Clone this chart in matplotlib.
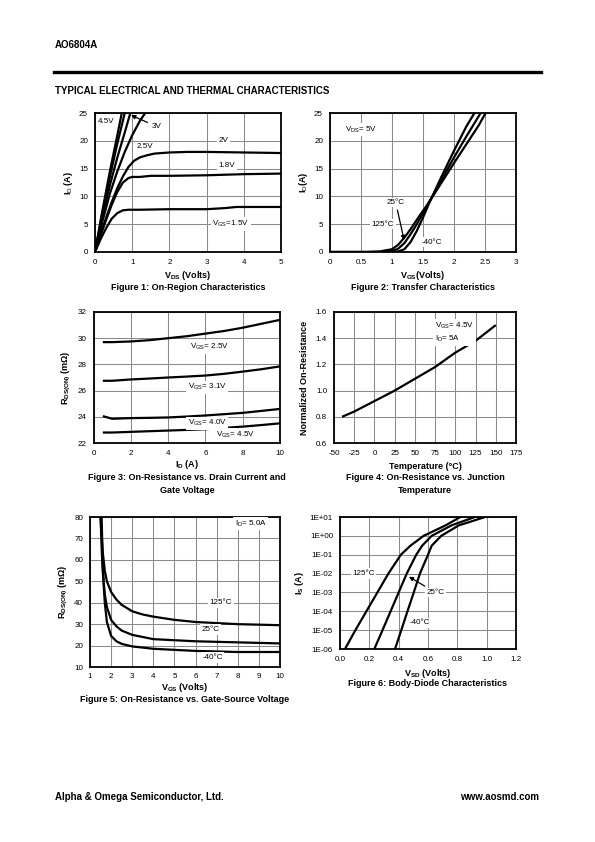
import numpy as np
import matplotlib
matplotlib.use("Agg")
import matplotlib.pyplot as plt

plt.rcParams["font.family"] = ["Liberation Sans", "DejaVu Sans"]
plt.rcParams["mathtext.fontset"] = "custom"
plt.rcParams["mathtext.rm"] = "Liberation Sans"
plt.rcParams["mathtext.it"] = "Liberation Sans"
plt.rcParams["mathtext.bf"] = "Liberation Sans:bold"
plt.rcParams["axes.unicode_minus"] = False

# ---- Figure 1: On-region characteristics (VDS, ID) ----
f1_vds_45 = [0, 0.2, 0.4, 0.6, 0.72]
f1_id_45 = [0, 7.5, 14.5, 21, 25]
f1_vds_4 = [0, 0.2, 0.4, 0.6, 0.8]
f1_id_4 = [0, 7, 13.5, 19.5, 25]
f1_vds_3 = [0, 0.2, 0.4, 0.6, 0.8, 0.95]
f1_id_3 = [0, 6.5, 12, 17, 21.5, 25]
f1_vds_25 = [0, 0.2, 0.4, 0.6, 0.8, 1.0, 1.2, 1.35]
f1_id_25 = [0, 5.5, 10.5, 14.5, 18, 21, 23.5, 25]
f1_vds_2 = [0, 0.15, 0.3, 0.45, 0.6, 0.75, 0.9, 1.05, 1.2, 1.4, 1.6, 2.0, 2.5, 3.0, 4.0, 5.0]
f1_id_2 = [0, 3.2, 6.2, 9, 11.5, 13.6, 15.3, 16.4, 17.0, 17.4, 17.7, 17.9, 18.0, 18.0, 17.9, 17.8]
f1_vds_18 = [0, 0.15, 0.3, 0.45, 0.6, 0.75, 0.9, 1.0, 1.2, 1.5, 2.0, 3.0, 4.0, 5.0]
f1_id_18 = [0, 3, 5.8, 8.5, 10.8, 12.5, 13.3, 13.5, 13.5, 13.7, 13.7, 13.8, 14.0, 14.1]
f1_vds_15 = [0, 0.15, 0.3, 0.45, 0.6, 0.75, 0.9, 1.2, 2.0, 3.0, 3.5, 3.8, 4.5, 5.0]
f1_id_15 = [0, 2.3, 4.3, 6.0, 7.0, 7.5, 7.6, 7.6, 7.7, 7.7, 7.9, 8.1, 8.1, 8.1]

# ---- Figure 2: Transfer characteristics (VGS, ID) ----
f2_vgs_125 = [0, 0.6, 0.8, 1.0, 1.1, 1.2, 1.3, 1.4, 1.5, 1.6, 1.8, 2.0, 2.2, 2.4, 2.51]
f2_id_125 = [0, 0, 0.1, 0.5, 1.3, 2.6, 4.1, 5.8, 7.4, 9.0, 12.5, 16.0, 19.4, 22.8, 25]
f2_vgs_25 = [0, 0.8, 1.0, 1.1, 1.2, 1.3, 1.4, 1.5, 1.6, 1.8, 2.0, 2.2, 2.43]
f2_id_25 = [0, 0, 0.15, 0.6, 1.6, 3.2, 5.0, 7.0, 9.0, 13.0, 17.0, 20.8, 25]
f2_vgs_m40 = [0, 0.9, 1.1, 1.2, 1.3, 1.4, 1.5, 1.6, 1.8, 2.0, 2.2, 2.33]
f2_id_m40 = [0, 0, 0.1, 0.5, 1.8, 3.8, 6.2, 8.8, 13.6, 18.2, 22.6, 25]

# ---- Figure 3: RDS(ON) vs ID ----
f3_id = [0.5, 1, 2, 3, 4, 5, 6, 7, 8, 9, 10]
f3_r_25 = [29.7, 29.7, 29.75, 29.85, 30.0, 30.15, 30.35, 30.55, 30.8, 31.1, 31.4]
f3_r_31 = [26.75, 26.75, 26.85, 26.92, 27.0, 27.07, 27.15, 27.28, 27.45, 27.63, 27.85]
f3_r_40 = [24.05, 23.85, 23.9, 23.92, 23.95, 24.02, 24.1, 24.2, 24.3, 24.45, 24.6]
f3_r_45 = [22.8, 22.8, 22.85, 22.9, 22.95, 23.0, 23.05, 23.15, 23.25, 23.37, 23.5]

# ---- Figure 4: normalized on-resistance vs temperature ----
f4_temp = [-40, -25, 0, 25, 50, 75, 100, 125, 150]
f4_norm = [0.8, 0.84, 0.92, 1.0, 1.09, 1.18, 1.29, 1.38, 1.5]

# ---- Figure 5: RDS(ON) vs VGS ----
f5_vgs_125 = [1.5, 1.55, 1.6, 1.7, 1.8, 2.0, 2.25, 2.5, 3.0, 3.5, 4.0, 5.0, 6.0, 7.0, 8.0, 10.0]
f5_r_125 = [80, 72, 64, 55, 50, 45, 41.5, 39, 36, 34.5, 33.5, 32, 31, 30.5, 30, 29.5]
f5_vgs_25 = [1.5, 1.55, 1.6, 1.7, 1.8, 2.0, 2.25, 2.5, 3.0, 4.0, 5.0, 6.0, 8.0, 10.0]
f5_r_25 = [80, 66, 55, 44, 38, 32, 29, 27, 25, 23, 22.5, 22, 21.5, 21]
f5_vgs_m40 = [1.55, 1.6, 1.65, 1.7, 1.8, 2.0, 2.25, 2.5, 3.0, 4.0, 5.0, 6.0, 8.0, 10.0]
f5_r_m40 = [80, 60, 48, 40, 31, 24.5, 22, 20.8, 19.6, 18.5, 18, 17.5, 17, 17]

# ---- Figure 6: body-diode characteristics (VSD, IS) ----
f6_vsd_125 = [0.034, 0.105, 0.18, 0.255, 0.33, 0.415, 0.48, 0.57, 0.72, 0.82]
f6_is_125 = [1e-6, 1e-5, 1e-4, 1e-3, 1e-2, 1e-1, 0.3, 1.0, 3.6, 10]
f6_vsd_25 = [0.234, 0.29, 0.345, 0.40, 0.455, 0.52, 0.56, 0.625, 0.76, 0.92]
f6_is_25 = [1e-6, 1e-5, 1e-4, 1e-3, 1e-2, 1e-1, 0.3, 1.0, 3.6, 10]
f6_vsd_m40 = [0.375, 0.418, 0.46, 0.503, 0.545, 0.6, 0.625, 0.69, 0.81, 0.99]
f6_is_m40 = [1e-6, 1e-5, 1e-4, 1e-3, 1e-2, 1e-1, 0.3, 1.0, 3.6, 10]

W, H = 595, 842
fig = plt.figure(figsize=(W / 100, H / 100), dpi=100)


def add_ax(x0, y0, x1, y1):
    # pixel box (left, top, right, bottom) -> figure axes
    return fig.add_axes([x0 / W, 1 - y1 / H, (x1 - x0) / W, (y1 - y0) / H])


def ftext(x, y, s, **kw):
    fig.text(x / W, 1 - y / H, s, **kw)


def style(ax):
    ax.grid(True, color="#8a8a8a", lw=0.75)
    ax.set_axisbelow(True)
    for sp in ax.spines.values():
        sp.set_linewidth(1.3)
    ax.tick_params(length=0, labelsize=5.8, pad=5)


lab = dict(fontsize=5.8, ha="center", va="center",
           bbox=dict(fc="white", ec="none", pad=1.2))
curve = dict(color="black", lw=1.6, solid_capstyle="butt")
arrow = dict(arrowstyle="-|>", color="black", lw=0.9, mutation_scale=6, shrinkA=2, shrinkB=0)

# header / footer
ftext(55, 45, "AO6804A", fontsize=7, fontweight="bold", va="center")
fig.add_artist(plt.Line2D([54 / W, 541 / W], [1 - 72 / H, 1 - 72 / H], color="black", lw=2.4))
ftext(55, 91, "TYPICAL ELECTRICAL AND THERMAL CHARACTERISTICS", fontsize=7, fontweight="bold", va="center")
ftext(55, 797, "Alpha & Omega Semiconductor, Ltd.", fontsize=7, fontweight="bold", va="center")
ftext(539, 797, "www.aosmd.com", fontsize=7, fontweight="bold", va="center", ha="right")

# ---- Figure 1 ----
ax = add_ax(95, 113, 281, 252)
for xs, ys in [(f1_vds_45, f1_id_45), (f1_vds_4, f1_id_4), (f1_vds_3, f1_id_3),
               (f1_vds_25, f1_id_25), (f1_vds_2, f1_id_2), (f1_vds_18, f1_id_18),
               (f1_vds_15, f1_id_15)]:
    ax.plot(xs, ys, **curve)
ax.set_xlim(0, 5)
ax.set_ylim(0, 25)
ax.set_xticks(range(6))
ax.set_yticks(range(0, 26, 5))
style(ax)
ax.text(0.3, 23.4, "4.5V", **lab)
ax.text(1.35, 18.9, "2.5V", **lab)
ax.text(3.45, 20, "2V", **lab)
ax.text(3.55, 15.5, "1.8V", **lab)
ax.text(3.65, 5, "V$_{\\mathrm{GS}}$=1.5V", **lab)
ax.annotate("3V", xy=(0.97, 24.6), xytext=(1.65, 22.6), fontsize=5.8, ha="center", va="center",
            bbox=dict(fc="white", ec="none", pad=1.0), arrowprops=arrow)
ax.set_ylabel("I$_{\\mathrm{D}}$ (A)", fontsize=6.5, fontweight="bold", labelpad=3)
ftext(188, 275, "V$_{\\mathbf{DS}}$ (Volts)", fontsize=6.5, fontweight="bold", ha="center", va="center")
ftext(188, 287, "Figure 1: On-Region Characteristics", fontsize=6.5, fontweight="bold", ha="center", va="center")

# ---- Figure 2 ----
ax = add_ax(330, 113, 516, 252)
for xs, ys in [(f2_vgs_125, f2_id_125), (f2_vgs_25, f2_id_25), (f2_vgs_m40, f2_id_m40)]:
    ax.plot(xs, ys, **curve)
ax.set_xlim(0, 3)
ax.set_ylim(0, 25)
ax.set_xticks([0, 0.5, 1, 1.5, 2, 2.5, 3])
ax.set_xticklabels(["0", "0.5", "1", "1.5", "2", "2.5", "3"])
ax.set_yticks(range(0, 26, 5))
style(ax)
ax.text(0.5, 22.0, "V$_{\\mathrm{DS}}$= 5V", **lab)
ax.text(0.85, 5, "125\u00b0C", **lab)
ax.text(1.65, 1.75, "-40\u00b0C", **lab)
ax.annotate("25\u00b0C", xy=(1.195, 2.15), xytext=(1.06, 8.9), fontsize=5.8, ha="center", va="center",
            bbox=dict(fc="white", ec="none", pad=1.0), arrowprops=arrow)
ax.set_ylabel("I$_{\\mathrm{D}}$(A)", fontsize=6.5, fontweight="bold", labelpad=3)
ftext(423, 275, "V$_{\\mathbf{GS}}$(Volts)", fontsize=6.5, fontweight="bold", ha="center", va="center")
ftext(423, 287, "Figure 2: Transfer Characteristics", fontsize=6.5, fontweight="bold", ha="center", va="center")

# ---- Figure 3 ----
ax = add_ax(93.5, 312, 280, 443)
for ys in [f3_r_25, f3_r_31, f3_r_40, f3_r_45]:
    ax.plot(f3_id, ys, **curve)
ax.set_xlim(0, 10)
ax.set_ylim(22, 32)
ax.set_xticks(range(0, 11, 2))
ax.set_yticks(range(22, 33, 2))
style(ax)
ax.text(6.2, 29.35, "V$_{\\mathrm{GS}}$= 2.5V", **lab)
ax.text(6.1, 26.25, "V$_{\\mathrm{GS}}$= 3.1V", **lab)
ax.text(6.1, 23.5, "V$_{\\mathrm{GS}}$= 4.0V", **lab)
ax.text(7.6, 22.6, "V$_{\\mathrm{GS}}$= 4.5V", **lab)
ax.set_ylabel("R$_{\\mathbf{DS(ON)}}$ (m\u03a9)", fontsize=6.5, fontweight="bold", labelpad=3)
ftext(187, 465, "I$_{\\mathbf{D}}$ (A)", fontsize=6.5, fontweight="bold", ha="center", va="center")
ftext(187, 478, "Figure 3: On-Resistance vs. Drain Current and", fontsize=6.5, fontweight="bold", ha="center", va="center")
ftext(187, 490, "Gate Voltage", fontsize=6.5, fontweight="bold", ha="center", va="center")

# ---- Figure 4 ----
ax = add_ax(334, 312, 516, 443)
ax.plot(f4_temp, f4_norm, **curve)
ax.set_xlim(-50, 175)
ax.set_ylim(0.6, 1.6)
ax.set_xticks(range(-50, 176, 25))
ax.set_yticks([0.6, 0.8, 1.0, 1.2, 1.4, 1.6])
ax.set_yticklabels(["0.6", "0.8", "1.0", "1.2", "1.4", "1.6"])
style(ax)
ax.text(75, 1.445, "V$_{\\mathrm{GS}}$= 4.5V\nI$_{\\mathrm{D}}$= 5A", fontsize=5.8, ha="left", va="center",
        linespacing=1.5, bbox=dict(fc="white", ec="none", pad=1.2))
ax.set_ylabel("Normalized On-Resistance", fontsize=6.5, fontweight="bold", labelpad=5)
ftext(425, 467, "Temperature (\u00b0C)", fontsize=6.5, fontweight="bold", ha="center", va="center")
ftext(425, 478, "Figure 4: On-Resistance vs. Junction", fontsize=6.5, fontweight="bold", ha="center", va="center")
ftext(425, 490, "Temperature", fontsize=6.5, fontweight="bold", ha="center", va="center")

# ---- Figure 5 ----
ax = add_ax(90, 517, 280, 667)
for xs, ys in [(f5_vgs_125, f5_r_125), (f5_vgs_25, f5_r_25), (f5_vgs_m40, f5_r_m40)]:
    ax.plot(xs, ys, **curve)
ax.set_xlim(1, 10)
ax.set_ylim(10, 80)
ax.set_xticks(range(1, 11))
ax.set_yticks(range(10, 81, 10))
style(ax)
ax.tick_params(axis="x", pad=4)
ax.text(8.6, 77, "I$_{\\mathrm{D}}$= 5.0A", **lab)
ax.text(7.2, 40, "125\u00b0C", **lab)
ax.text(6.7, 27.5, "25\u00b0C", **lab)
ax.text(6.8, 14.5, "-40\u00b0C", **lab)
ax.set_ylabel("R$_{\\mathbf{DS(ON)}}$ (m\u03a9)", fontsize=6.5, fontweight="bold", labelpad=3)
ftext(185, 687, "V$_{\\mathbf{GS}}$ (Volts)", fontsize=6.5, fontweight="bold", ha="center", va="center")
ftext(185, 699, "Figure 5: On-Resistance vs. Gate-Source Voltage", fontsize=6.5, fontweight="bold", ha="center", va="center")

# ---- Figure 6 ----
ax = add_ax(340, 517, 516, 649)
for xs, ys in [(f6_vsd_125, f6_is_125), (f6_vsd_25, f6_is_25), (f6_vsd_m40, f6_is_m40)]:
    ax.plot(xs, ys, **curve)
ax.set_yscale("log")
ax.set_xlim(0, 1.2)
ax.set_ylim(1e-6, 1e1)
ax.set_xticks([0, 0.2, 0.4, 0.6, 0.8, 1.0, 1.2])
ax.set_xticklabels(["0.0", "0.2", "0.4", "0.6", "0.8", "1.0", "1.2"])
decades = [1e-6, 1e-5, 1e-4, 1e-3, 1e-2, 1e-1, 1e0, 1e1]
ax.set_yticks(decades)
ax.set_yticklabels(["1E-06", "1E-05", "1E-04", "1E-03", "1E-02", "1E-01", "1E+00", "1E+01"])
ax.minorticks_off()
style(ax)
ax.text(0.16, 1e-2, "125\u00b0C", **lab)
ax.text(0.545, 2.4e-5, "-40\u00b0C", **lab)
ax.annotate("25\u00b0C", xy=(0.47, 6.8e-3), xytext=(0.65, 1e-3), fontsize=5.8, ha="center", va="center",
            bbox=dict(fc="white", ec="none", pad=1.0), arrowprops=arrow)
ax.set_ylabel("I$_{\\mathbf{S}}$ (A)", fontsize=6.5, fontweight="bold", labelpad=3)
ftext(428, 673, "V$_{\\mathbf{SD}}$ (Volts)", fontsize=6.5, fontweight="bold", ha="center", va="center")
ftext(428, 684, "Figure 6: Body-Diode Characteristics", fontsize=6.5, fontweight="bold", ha="center", va="center")

fig.savefig("out.png", dpi=100)
